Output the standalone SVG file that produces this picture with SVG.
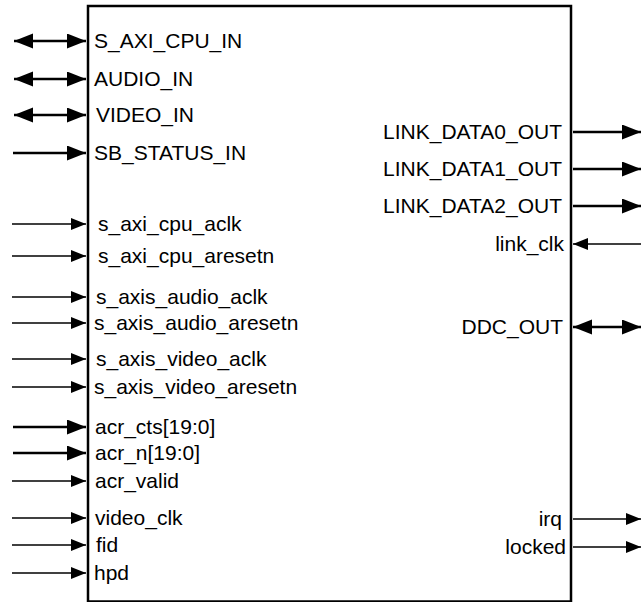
<svg xmlns="http://www.w3.org/2000/svg" width="641" height="602" viewBox="0 0 641 602">
<style>
  text { font-family: "Liberation Sans", Arial, sans-serif; font-size: 21px; fill: #000; }
  .l { text-anchor: start; }
  .r { text-anchor: end; }
  .bus { stroke: #000; stroke-width: 2.5; fill: none; }
  .sig { stroke: #000; stroke-width: 1.3; fill: none; }
  .box { stroke: #000; stroke-width: 2.5; fill: #fff; }
</style>
<defs>
  <marker id="hb" markerUnits="userSpaceOnUse" markerWidth="21" markerHeight="16" refX="19" refY="7.5" orient="auto-start-reverse">
    <path d="M0,0 L19,7.5 L0,15 Z" fill="#000"/>
  </marker>
  <marker id="hs" markerUnits="userSpaceOnUse" markerWidth="16" markerHeight="13" refX="15" refY="6" orient="auto-start-reverse">
    <path d="M0,0 L15,6 L0,12 Z" fill="#000"/>
  </marker>
</defs>

<g id="block">
  <rect class="box" x="88" y="6" width="483" height="595.5"/>
</g>

<g id="connectors">
  <line class="bus" x1="14" y1="41" x2="86" y2="41" marker-start="url(#hb)" marker-end="url(#hb)"/>
  <line class="bus" x1="14" y1="79" x2="86" y2="79" marker-start="url(#hb)" marker-end="url(#hb)"/>
  <line class="bus" x1="14" y1="115" x2="86" y2="115" marker-start="url(#hb)" marker-end="url(#hb)"/>
  <line class="bus" x1="13" y1="153" x2="86" y2="153" marker-end="url(#hb)"/>
  <line class="sig" x1="12" y1="224" x2="86" y2="224" marker-end="url(#hs)"/>
  <line class="sig" x1="12" y1="256" x2="86" y2="256" marker-end="url(#hs)"/>
  <line class="sig" x1="12" y1="297" x2="86" y2="297" marker-end="url(#hs)"/>
  <line class="sig" x1="12" y1="323" x2="86" y2="323" marker-end="url(#hs)"/>
  <line class="sig" x1="12" y1="359" x2="86" y2="359" marker-end="url(#hs)"/>
  <line class="sig" x1="12" y1="387" x2="86" y2="387" marker-end="url(#hs)"/>
  <line class="bus" x1="13" y1="427" x2="86" y2="427" marker-end="url(#hb)"/>
  <line class="bus" x1="13" y1="453" x2="86" y2="453" marker-end="url(#hb)"/>
  <line class="sig" x1="12" y1="481" x2="86" y2="481" marker-end="url(#hs)"/>
  <line class="sig" x1="12" y1="518" x2="86" y2="518" marker-end="url(#hs)"/>
  <line class="sig" x1="12" y1="545" x2="86" y2="545" marker-end="url(#hs)"/>
  <line class="sig" x1="12" y1="573" x2="86" y2="573" marker-end="url(#hs)"/>

  <line class="bus" x1="573" y1="132" x2="641" y2="132" marker-end="url(#hb)"/>
  <line class="bus" x1="573" y1="169" x2="641" y2="169" marker-end="url(#hb)"/>
  <line class="bus" x1="573" y1="206" x2="641" y2="206" marker-end="url(#hb)"/>
  <line class="sig" x1="641" y1="244" x2="573" y2="244" marker-end="url(#hs)"/>
  <line class="bus" x1="573" y1="327" x2="641" y2="327" marker-start="url(#hb)" marker-end="url(#hb)"/>
  <line class="sig" x1="573" y1="519" x2="641" y2="519" marker-end="url(#hs)"/>
  <line class="sig" x1="573" y1="547" x2="641" y2="547" marker-end="url(#hs)"/>
</g>

<g id="labels-left">
  <text class="l" x="94" y="47.5">S_AXI_CPU_IN</text>
  <text class="l" x="94" y="85.5">AUDIO_IN</text>
  <text class="l" x="96" y="121.5">VIDEO_IN</text>
  <text class="l" x="94" y="159.5">SB_STATUS_IN</text>
  <text class="l" x="98" y="230.5">s_axi_cpu_aclk</text>
  <text class="l" x="98" y="262.5">s_axi_cpu_aresetn</text>
  <text class="l" x="96" y="303.5">s_axis_audio_aclk</text>
  <text class="l" x="94" y="329.5">s_axis_audio_aresetn</text>
  <text class="l" x="96" y="365.5">s_axis_video_aclk</text>
  <text class="l" x="94" y="393.5">s_axis_video_aresetn</text>
  <text class="l" x="95" y="433.5">acr_cts[19:0]</text>
  <text class="l" x="95" y="459.5">acr_n[19:0]</text>
  <text class="l" x="95" y="487.5">acr_valid</text>
  <text class="l" x="95" y="524.5">video_clk</text>
  <text class="l" x="96" y="551.5">fid</text>
  <text class="l" x="94" y="579.5">hpd</text>
</g>

<g id="labels-right">
  <text class="r" x="562" y="138.5">LINK_DATA0_OUT</text>
  <text class="r" x="562" y="175.5">LINK_DATA1_OUT</text>
  <text class="r" x="562" y="212.5">LINK_DATA2_OUT</text>
  <text class="r" x="564" y="250.5">link_clk</text>
  <text class="r" x="563" y="333.5">DDC_OUT</text>
  <text class="r" x="562" y="525.5">irq</text>
  <text class="r" x="566" y="553.5">locked</text>
</g>
</svg>
